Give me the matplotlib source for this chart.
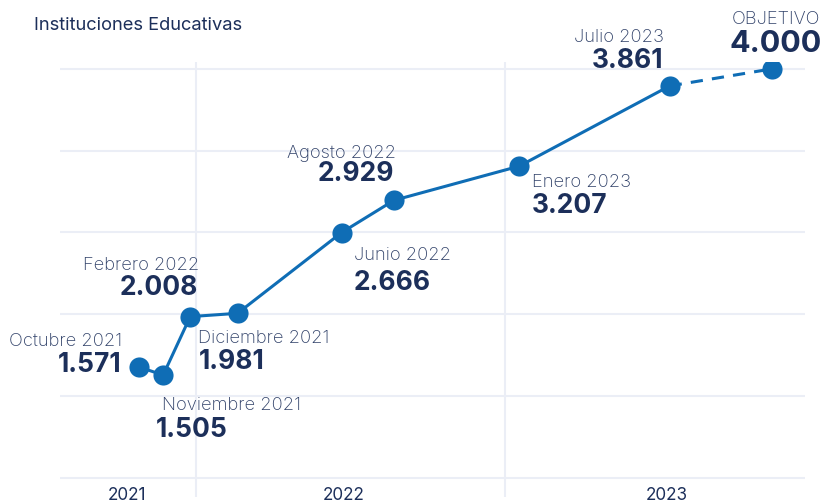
import numpy as np
import matplotlib
matplotlib.use("Agg")
import matplotlib.pyplot as plt
import matplotlib.dates as mdates

# data
dates = np.array([
    "2021-10-25", "2021-11-23", "2021-12-25", "2022-02-19",
    "2022-06-22", "2022-08-23", "2023-01-18", "2023-07-15",
], dtype="datetime64[D]")
values = [1.571, 1.505, 1.981, 2.008, 2.666, 2.929, 3.207, 3.861]
point_labels = [
    "Octubre 2021", "Noviembre 2021", "Diciembre 2021", "Febrero 2022",
    "Junio 2022", "Agosto 2022", "Enero 2023", "Julio 2023",
]
value_texts = ["1.571", "1.505", "1.981", "2.008", "2.666", "2.929", "3.207", "3.861"]

target_date = np.datetime64("2023-11-13")
target_value = 4.000
target_label = "OBJETIVO"
target_text = "4.000"

year_labels = ["2021", "2022", "2023"]
year_label_dates = np.array(["2021-10-11", "2022-06-24", "2023-07-12"], dtype="datetime64[D]")
year_bounds = np.array(["2022-01-01", "2023-01-01"], dtype="datetime64[D]")
grid_values = [2 / 3 * k for k in range(1, 7)]

title = "Instituciones Educativas"

# label offsets in pixels from each point: (dx_label, dx_value, dy_label, dy_value, ha)
label_offsets = [
    (-17, -17, 21, -5, "right"),
    (-1, -7, -35, -62, "left"),
    (8, 9, -26, -52, "left"),
    (-38, -40, 43, 18, "right"),
    (12, 12, -27, -57, "left"),
    (2, 0, 42, 19, "right"),
    (13, 13, -21, -47, "left"),
    (-6, -6, 44, 18, "right"),
]

LINE = "#0F6DB5"
NAVY = "#1C2F5A"
SOFT = "#2F4068"
GRID = "#EBEEF6"

plt.rcParams["font.family"] = ["Inter", "DejaVu Sans"]

fig = plt.figure(figsize=(8.25, 5.04), dpi=100)
ax = fig.add_axes([60 / 825, 7 / 504, 745 / 825, 435 / 504])

x = mdates.date2num(dates)
xt = mdates.date2num(target_date)

ax.set_xlim(mdates.date2num(np.datetime64("2021-07-24")),
            mdates.date2num(np.datetime64("2023-12-22")))
ax.set_ylim(0.511, 4.056)

for g in grid_values:
    ax.axhline(g, color=GRID, lw=1.5, zorder=0)
for b in mdates.date2num(year_bounds):
    ax.axvline(b, color=GRID, lw=1.5, zorder=0)

ax.plot(x, values, color=LINE, lw=2.2, zorder=2)
ax.plot([x[-1], xt], [values[-1], target_value], color=LINE, lw=2.2,
        linestyle=(0, (4, 3)), zorder=2)
ax.plot(np.append(x, xt), values + [target_value], "o", color=LINE,
        markersize=14.5, markeredgewidth=0, zorder=3)

for xi, yi, lab, val, (dxl, dxv, dyl, dyv, ha) in zip(x, values, point_labels, value_texts, label_offsets):
    ax.annotate(lab, (xi, yi), xytext=(dxl, dyl), textcoords="offset pixels",
                ha=ha, va="baseline", fontsize=13.2, fontweight="light", color=SOFT)
    ax.annotate(val, (xi, yi), xytext=(dxv, dyv), textcoords="offset pixels",
                ha=ha, va="baseline", fontsize=19, fontweight="bold", color=NAVY)

ax.annotate(target_label, (xt, target_value), xytext=(48, 45), textcoords="offset pixels",
            ha="right", va="baseline", fontsize=13.2, fontweight="light", color=SOFT,
            annotation_clip=False)
ax.annotate(target_text, (xt, target_value), xytext=(50, 17), textcoords="offset pixels",
            ha="right", va="baseline", fontsize=22, fontweight="bold", color=NAVY,
            annotation_clip=False)

for d, lab in zip(mdates.date2num(year_label_dates), year_labels):
    ax.text(d, -0.007, lab, transform=ax.get_xaxis_transform(), ha="center",
            va="baseline", fontsize=12.3, color=NAVY)

ax.set_xticks([])
ax.set_yticks([])
for s in ax.spines.values():
    s.set_visible(False)

fig.text(34 / 825, 1 - 30 / 504, title, ha="left", va="baseline",
         fontsize=13.2, color=NAVY)

fig.savefig("out.png", dpi=100)
